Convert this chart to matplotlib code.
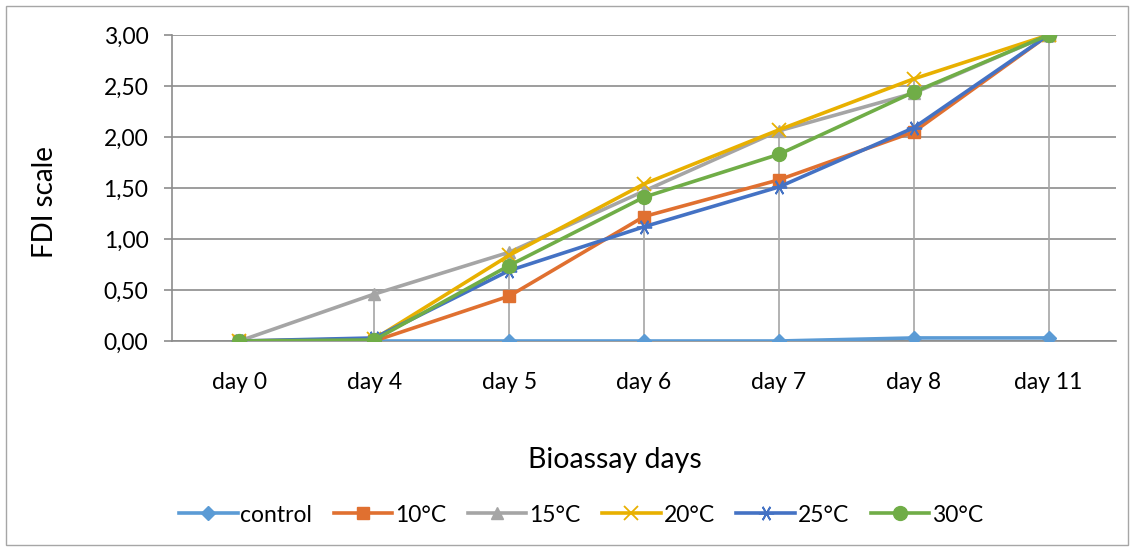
import numpy as np
import matplotlib.pyplot as plt
from matplotlib.patches import Rectangle
from matplotlib.ticker import FuncFormatter

plt.rcParams['font.family'] = ['Lato', 'DejaVu Sans']

# === Data ===
days = ['day 0', 'day 4', 'day 5', 'day 6', 'day 7', 'day 8', 'day 11']
control = [0.00, 0.00, 0.00, 0.00, 0.00, 0.03, 0.03]
t10 = [0.00, 0.00, 0.44, 1.22, 1.58, 2.05, 3.00]
t15 = [0.00, 0.46, 0.87, 1.47, 2.06, 2.43, 3.00]
t20 = [0.00, 0.02, 0.84, 1.54, 2.07, 2.57, 3.00]
t25 = [0.00, 0.03, 0.69, 1.12, 1.51, 2.09, 3.00]
t30 = [0.00, 0.01, 0.74, 1.41, 1.83, 2.44, 3.00]

labels = ['control', '10°C', '15°C', '20°C', '25°C', '30°C']
series = [control, t10, t15, t20, t25, t30]
colors = ['#5B9BD5', '#E07030', '#A5A5A5', '#E8B000', '#4472C4', '#70AD47']
markers = ['D', 's', '^', 'x', (6, 2, 90), 'o']
msizes = [7, 9, 9, 10, 11, 10]

fig = plt.figure(figsize=(11.34, 5.48), dpi=100)
ax = fig.add_axes([172 / 1134, 1 - 341 / 548, (1116 - 172) / 1134, (341 - 35) / 548])

x = np.arange(len(days))

# gridlines
ax.set_ylim(0, 3)
ax.set_xlim(-0.5, len(days) - 0.5)
ax.set_yticks(np.arange(0, 3.01, 0.5))
ax.yaxis.grid(True, color='#8C8C8C', lw=1.2)
ax.set_axisbelow(True)

# high-low lines
data = np.array(series)
ax.vlines(x, data.min(axis=0), data.max(axis=0), color='#A6A6A6', lw=1.2, zorder=1)

for vals, lab, c, m, ms in zip(series, labels, colors, markers, msizes):
    mew = 1.3 if m in ('x', (6, 2, 90)) else 1
    ax.plot(x, vals, color=c, lw=2.6, marker=m, markersize=ms, label=lab,
            markeredgewidth=mew, zorder=3)

for s in ['top', 'right']:
    ax.spines[s].set_visible(False)
ax.spines['left'].set_color('#8C8C8C')
ax.spines['bottom'].set_color('#8C8C8C')
ax.spines['left'].set_linewidth(1.2)
ax.spines['bottom'].set_linewidth(1.2)

ax.set_xticks(x)
ax.set_xticklabels(days)
ax.tick_params(axis='x', length=0, pad=22, labelsize=16.5)
ax.tick_params(axis='y', length=6, width=1.2, color='#8C8C8C', pad=11, labelsize=16.5)
ax.yaxis.set_major_formatter(FuncFormatter(lambda v, p: f'{v:.2f}'.replace('.', ',')))

fig.text(45 / 1134, 1 - 202 / 548, 'FDI scale', rotation=90, ha='center', va='center', fontsize=20)
fig.text(615 / 1134, 1 - 460 / 548, 'Bioassay days', ha='center', va='center', fontsize=20.5)

fig.legend(loc='center', bbox_to_anchor=(581 / 1134, 1 - 515 / 548), ncol=6, frameon=False,
           fontsize=16.5, handlelength=2.55, columnspacing=0.95, handletextpad=0.12)

fig.patches.append(Rectangle((6 / 1134, 3 / 548), 1122 / 1134, 539 / 548, transform=fig.transFigure,
                             fill=False, edgecolor='#A6A6A6', lw=1))

fig.savefig('out.png', dpi=100)
